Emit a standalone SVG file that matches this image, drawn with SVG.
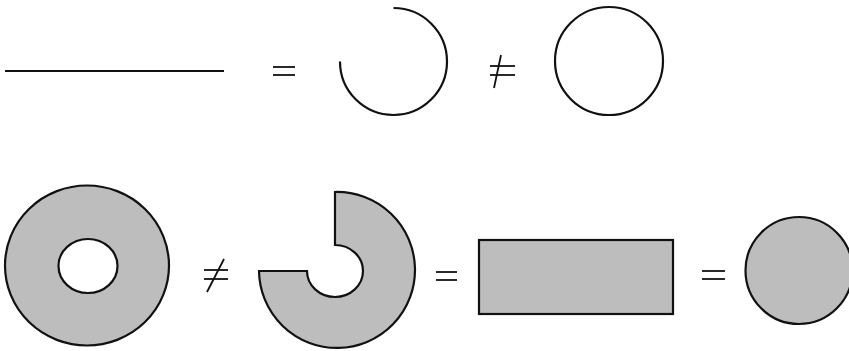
<svg xmlns="http://www.w3.org/2000/svg" width="849" height="351" viewBox="0 0 849 351">
<style>
.ln{fill:none;stroke:#111;stroke-width:2.2}
.sym{fill:none;stroke:#111;stroke-width:1.8}
.sh{fill:#bdbdbd;stroke:#111;stroke-width:2.2}
.hole{fill:#fff;stroke:#111;stroke-width:2.2}
</style>
<rect width="849" height="351" fill="#fff"/>
<g id="segment"><line class="ln" x1="5" y1="71" x2="224" y2="71"/></g>
<g id="eq1"><line class="sym" x1="273" y1="67" x2="295" y2="67"/><line class="sym" x1="273" y1="75" x2="295" y2="75"/></g>
<g id="arc"><path class="ln" d="M393.5 8 A53.5 53.5 0 1 1 340 61.5"/></g>
<g id="neq1"><line class="sym" x1="490" y1="66" x2="515" y2="66"/><line class="sym" x1="490" y1="75" x2="515" y2="75"/><line class="sym" x1="501" y1="55" x2="494" y2="88"/></g>
<g id="circle"><circle class="ln" cx="609" cy="61" r="54"/></g>
<g id="annulus"><ellipse class="sh" cx="87" cy="265.5" rx="82" ry="80"/><ellipse class="hole" cx="88" cy="266" rx="29.5" ry="27"/></g>
<g id="neq2"><line class="sym" x1="204" y1="270" x2="228" y2="270"/><line class="sym" x1="204" y1="279" x2="228" y2="279"/><line class="sym" x1="224" y1="259" x2="207" y2="292"/></g>
<g id="cutannulus"><path class="sh" d="M335 192 A78 78 0 1 1 259 271 L307 271 A28 26 0 1 0 335 245 Z"/></g>
<g id="eq2"><line class="sym" x1="436" y1="272" x2="457" y2="272"/><line class="sym" x1="436" y1="280" x2="457" y2="280"/></g>
<g id="rectangle"><rect class="sh" x="479" y="240" width="194" height="74"/></g>
<g id="eq3"><line class="sym" x1="702" y1="271" x2="725" y2="271"/><line class="sym" x1="702" y1="279" x2="725" y2="279"/></g>
<g id="disk"><circle class="sh" cx="799" cy="270.5" r="53.5"/></g>
</svg>
